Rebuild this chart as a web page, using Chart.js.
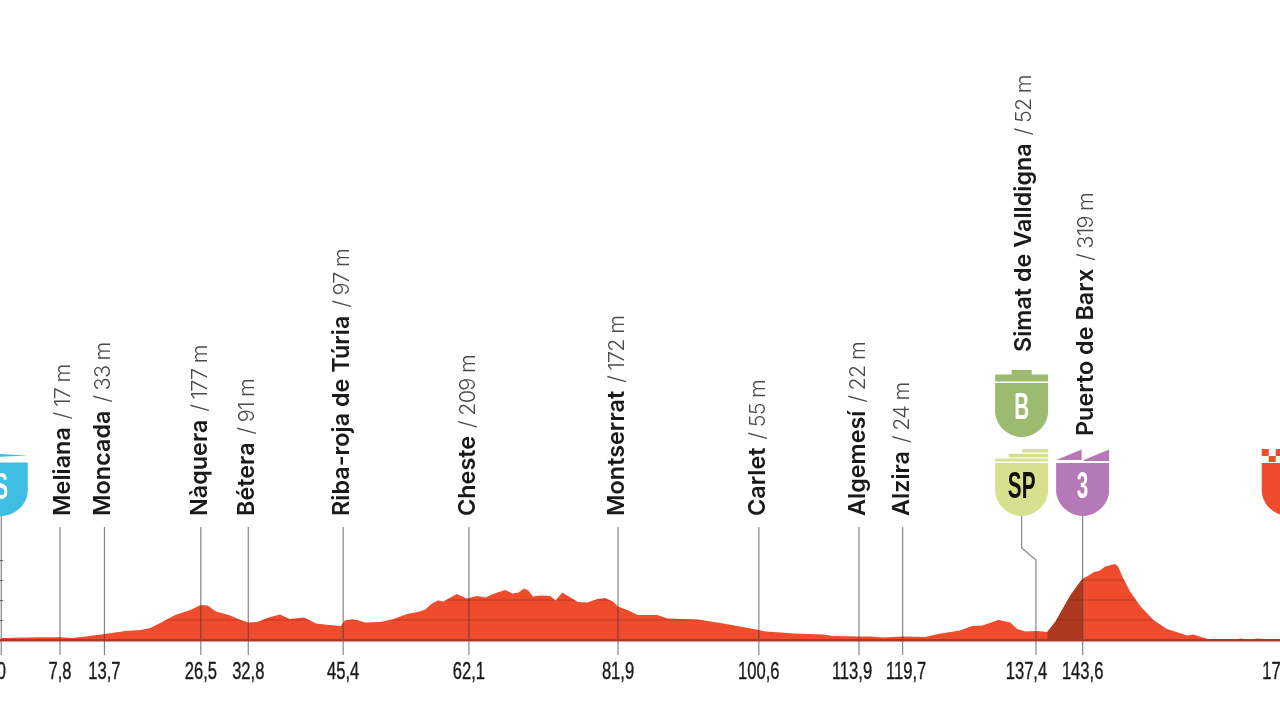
<!DOCTYPE html>
<html>
<head>
<meta charset="utf-8">
<title>Perfil de etapa</title>
<script src="https://cdn.jsdelivr.net/npm/chart.js@4"></script>
<style>
    html, body { margin: 0; padding: 0; background: #fff; }
    #profile { display: block; }
</style>
</head>
<body>
<canvas id="profile" width="1280" height="720"></canvas>
<script>
// Stage data
const profileKm = [0, 5.2, 7.8, 9.4, 11.2, 13.7, 16.5, 18.5, 19.8, 21.1, 23.1, 25.1, 26.5, 27.4, 28.5, 30.2, 31.8, 32.8, 34.0, 35.5, 37.0, 38.3, 40.2, 41.8, 43.5, 45.1, 45.6, 46.6, 47.2, 48.3, 50.3, 51.9, 53.9, 55.6, 56.3, 57.2, 58.0, 58.7, 60.5, 61.8, 63.2, 64.3, 65.3, 66.9, 67.9, 68.7, 69.4, 70.0, 70.6, 71.6, 72.9, 73.6, 74.5, 75.6, 76.6, 77.8, 79.2, 80.2, 81.2, 81.9, 83.3, 84.5, 87.1, 88.5, 92.5, 95.9, 100.6, 101.5, 103.5, 105.2, 109.2, 110.4, 113.9, 115.4, 117.1, 119.7, 122.7, 124.4, 127.3, 128.9, 130.3, 132.4, 134.0, 134.9, 136.0, 137.6, 138.9, 140.0, 142.0, 143.6, 144.3, 145.0, 145.9, 146.6, 147.9, 148.3, 149.0, 149.9, 151.3, 153.0, 154.8, 157.5, 158.3, 160.2, 164.2, 164.6, 165.5, 167.0, 168.6, 170.5];
const profileElevation = [10, 14, 14, 10, 18, 30, 45, 50, 60, 85, 125, 150, 175, 172, 142, 125, 100, 87, 90, 112, 128, 105, 112, 82, 75, 70, 97, 103, 100, 88, 90, 103, 130, 142, 153, 183, 197, 192, 230, 208, 220, 213, 230, 250, 233, 237, 258, 247, 217, 223, 220, 197, 237, 213, 190, 188, 205, 210, 192, 168, 147, 125, 125, 108, 103, 83, 50, 42, 38, 32, 27, 20, 17, 18, 12, 18, 15, 30, 47, 70, 72, 100, 88, 55, 42, 45, 40, 92, 225, 308, 320, 338, 347, 367, 380, 367, 308, 242, 167, 100, 55, 22, 28, 5, 5, 8, 3, 8, 3, 5];
const climbStartKm = 138.9;
const climbEndKm = 143.6;

const stopKm = [0, 7.8, 13.7, 26.5, 32.8, 45.4, 62.1, 81.9, 100.6, 113.9, 119.7, 137.4, 143.6, 170.2];
const stopNames = ['', 'Meliana', 'Moncada', 'Nàquera', 'Bétera', 'Riba-roja de Túria', 'Cheste', 'Montserrat', 'Carlet', 'Algemesí', 'Alzira', 'Simat de Valldigna', 'Puerto de Barx', ''];
const stopElevation = [0, 17, 33, 177, 91, 97, 209, 172, 55, 22, 24, 52, 319, 0];
const elevationTicks = [100, 200, 300, 400];

// Elbow from the SP badge down to its kilometre
const sprintLineKm = [135.5, 135.5, 137.4, 137.4];
const sprintLineElevation = [620, 460, 400, -75];

// Label tweaks that don't follow the default offset (px)
const LABEL_X = { 'Meliana': 9.5, 'Simat de Valldigna': -5, 'Puerto de Barx': 10.5 };
const LABEL_BOTTOM = { 'Simat de Valldigna': 352, 'Puerto de Barx': 436 };
const KM_LABEL_SHIFT = { '113,9': -7, '119,7': 3.5, '137,4': -9.5 };
const RED = '#ef4b2d';
const STEM = 'rgba(60, 60, 60, 0.62)';

const toPoints = (xs, ys) => xs.map((x, i) => ({ x: x, y: ys[i] }));

function stemPoints() {
    const points = [];
    stopKm.forEach(km => {
        if (km === 137.4) return;
        const top = (km === 0 || km === 143.6) ? 620 : 565;
        points.push({ x: km, y: -75 }, { x: km, y: top }, { x: km, y: null });
    });
    return points;
}

// Grid only shows through the red fill
function drawClippedGrid(chart) {
    const ctx = chart.ctx;
    const pts = chart.getDatasetMeta(0).data;
    const area = chart.chartArea;
    ctx.save();
    ctx.beginPath();
    ctx.moveTo(pts[0].x, area.bottom);
    pts.forEach(p => ctx.lineTo(p.x, p.y));
    ctx.lineTo(pts[pts.length - 1].x, area.bottom);
    ctx.closePath();
    ctx.clip();
    ctx.strokeStyle = 'rgba(110, 30, 15, 0.4)';
    ctx.lineWidth = 1;
    chart.scales.y.ticks.forEach(t => {
        const y = chart.scales.y.getPixelForValue(t.value);
        ctx.beginPath();
        ctx.moveTo(area.left, y);
        ctx.lineTo(area.right, y);
        ctx.stroke();
    });
    ctx.restore();
}

function drawStopLabels(chart) {
    const ctx = chart.ctx;
    const xScale = chart.scales.x;
    stopNames.forEach((name, i) => {
        if (!name) return;
        const x = xScale.getPixelForValue(stopKm[i]) + (LABEL_X[name] !== undefined ? LABEL_X[name] : 6);
        const bottom = LABEL_BOTTOM[name] || 516;
        ctx.save();
        ctx.translate(x, bottom);
        ctx.rotate(-Math.PI / 2);
        ctx.textAlign = 'left';
        ctx.textBaseline = 'alphabetic';
        ctx.font = '600 23.4px Inter';
        ctx.fillStyle = '#1a1a1a';
        ctx.fillText(name, 0, 0);
        const offset = ctx.measureText(name).width + 8;
        ctx.font = '300 21.5px Inter';
        ctx.letterSpacing = '-0.7px';
        ctx.fillStyle = '#4a4a4a';
        ctx.fillText('/ ' + stopElevation[i] + ' m', offset, 0);
        ctx.restore();
    });
}

// Narrow kilometre labels, squeezed since no condensed face is installed
function drawKmLabels(chart) {
    const ctx = chart.ctx;
    const xScale = chart.scales.x;
    xScale.ticks.forEach(t => {
        ctx.save();
        ctx.translate(xScale.getPixelForValue(t.value) + (KM_LABEL_SHIFT[t.label] || 0), 672);
        ctx.scale(0.69, 1);
        ctx.font = '24px "Liberation Sans"';
        ctx.textAlign = 'center';
        ctx.textBaseline = 'middle';
        ctx.fillStyle = '#1a1a1a';
        ctx.strokeStyle = '#1a1a1a';
        ctx.lineWidth = 0.4;
        ctx.fillText(t.label, 0, 0);
        ctx.strokeText(t.label, 0, 0);
        ctx.restore();
    });
}

function shieldPath(ctx, cx, top, bottom) {
    const half = 26.5;
    ctx.beginPath();
    ctx.moveTo(cx - half, top);
    ctx.lineTo(cx + half, top);
    ctx.lineTo(cx + half, bottom - 26);
    ctx.bezierCurveTo(cx + half, bottom - 10, cx + 12, bottom, cx, bottom);
    ctx.bezierCurveTo(cx - 12, bottom, cx - half, bottom - 10, cx - half, bottom - 26);
    ctx.closePath();
}

function shieldText(ctx, text, cx, cy, color) {
    ctx.save();
    ctx.translate(cx, cy);
    ctx.scale(0.56, 1);
    ctx.font = 'bold 37px "Liberation Sans"';
    ctx.textAlign = 'center';
    ctx.textBaseline = 'middle';
    ctx.fillStyle = color;
    ctx.fillText(text, 0, 1);
    ctx.restore();
}

function drawBadges(chart) {
    const ctx = chart.ctx;
    const px = km => chart.scales.x.getPixelForValue(km);
    ctx.save();

    // start
    const sx = px(0);
    ctx.fillStyle = '#3fbde2';
    ctx.beginPath();
    ctx.moveTo(sx - 27, 452.5);
    ctx.lineTo(sx + 27, 455.5);
    ctx.lineTo(sx - 27, 458);
    ctx.closePath();
    ctx.fill();
    shieldPath(ctx, sx, 462.5, 516);
    ctx.fill();
    shieldText(ctx, 'S', sx, 488, '#fff');

    // bonus
    const bx = px(135.5);
    ctx.fillStyle = '#9dbb6f';
    ctx.fillRect(bx - 10, 370, 20, 5);
    ctx.fillRect(bx - 26.5, 374.5, 53, 7);
    shieldPath(ctx, bx, 383, 437);
    ctx.fill();
    shieldText(ctx, 'B', bx, 408, '#fff');

    // sprint
    ctx.fillStyle = '#d6e08f';
    ctx.fillRect(bx + 0.5, 449, 26, 3.5);
    ctx.fillRect(bx - 13, 453.8, 39.5, 3.5);
    ctx.fillRect(bx - 26.5, 458.5, 53, 3);
    shieldPath(ctx, bx, 463, 516);
    ctx.fill();
    shieldText(ctx, 'SP', bx, 487, '#111');

    // third category climb
    const cx = px(143.6);
    ctx.fillStyle = '#b579b8';
    ctx.beginPath();
    ctx.moveTo(cx - 26.5, 460);
    ctx.lineTo(cx - 1, 449.5);
    ctx.lineTo(cx - 1, 460);
    ctx.closePath();
    ctx.fill();
    ctx.beginPath();
    ctx.moveTo(cx + 1, 460);
    ctx.lineTo(cx + 26.5, 449.5);
    ctx.lineTo(cx + 26.5, 461);
    ctx.lineTo(cx + 1, 461);
    ctx.closePath();
    ctx.fill();
    shieldPath(ctx, cx, 463, 516);
    ctx.fill();
    shieldText(ctx, '3', cx, 487, '#fff');

    // finish
    const fx = px(170.9);
    ctx.fillStyle = RED;
    ctx.fillRect(fx - 26.5, 449, 7, 7);
    ctx.fillRect(fx - 19.5, 456, 7, 6);
    ctx.fillRect(fx - 12.5, 449, 7, 7);
    shieldPath(ctx, fx, 463, 516);
    ctx.fill();
    ctx.restore();
}

const stagePlugin = {
    id: 'stage',
    afterDatasetsDraw(chart) {
        drawClippedGrid(chart);
        drawBadges(chart);
        drawStopLabels(chart);
        drawKmLabels(chart);
    }
};

new Chart(document.getElementById('profile'), {
    type: 'line',
    plugins: [stagePlugin],
    data: {
        datasets: [
            {
                label: 'Altitud',
                data: toPoints(profileKm, profileElevation),
                backgroundColor: RED,
                borderWidth: 0,
                pointRadius: 0,
                fill: 'origin',
                order: 3
            },
            {
                label: 'Puerto de Barx',
                data: toPoints(profileKm, profileElevation).filter(p => p.x >= climbStartKm && p.x <= climbEndKm),
                backgroundColor: '#ad3a20',
                borderWidth: 0,
                pointRadius: 0,
                fill: 'origin',
                order: 2
            },
            {
                label: 'Paso',
                data: stemPoints(),
                borderColor: STEM,
                borderWidth: 1.2,
                pointRadius: 0,
                fill: false,
                clip: false,
                spanGaps: false,
                order: 1
            },
            {
                label: 'Sprint',
                data: toPoints(sprintLineKm, sprintLineElevation),
                borderColor: STEM,
                borderWidth: 1.2,
                pointRadius: 0,
                fill: false,
                clip: false,
                order: 1
            }
        ]
    },
    options: {
        responsive: false,
        animation: false,
        events: [],
        layout: { padding: 0 },
        plugins: {
            legend: { display: false },
            tooltip: { enabled: false }
        },
        scales: {
            x: {
                type: 'linear',
                min: -0.17,
                max: 169.81,
                afterBuildTicks(scale) {
                    scale.ticks = stopKm.map(v => ({ value: v }));
                },
                afterFit(scale) {
                    scale.height = 80;
                    scale.paddingLeft = 0;
                    scale.paddingRight = 0;
                },
                grid: { display: false },
                border: { display: true, color: '#a83a28', width: 2.4, z: 1 },
                ticks: {
                    display: false,
                    autoSkip: false,
                    callback: value => String(value).replace('.', ',')
                }
            },
            y: {
                type: 'linear',
                min: 0,
                max: 3200,
                afterBuildTicks(scale) {
                    scale.ticks = elevationTicks.map(v => ({ value: v }));
                },
                afterFit(scale) {
                    scale.width = 0;
                    scale.paddingTop = 0;
                    scale.paddingBottom = 0;
                },
                grid: { drawOnChartArea: false, tickLength: -3, color: '#777' },
                border: { display: false },
                ticks: { display: false }
            }
        }
    }
});
</script>
</body>
</html>
